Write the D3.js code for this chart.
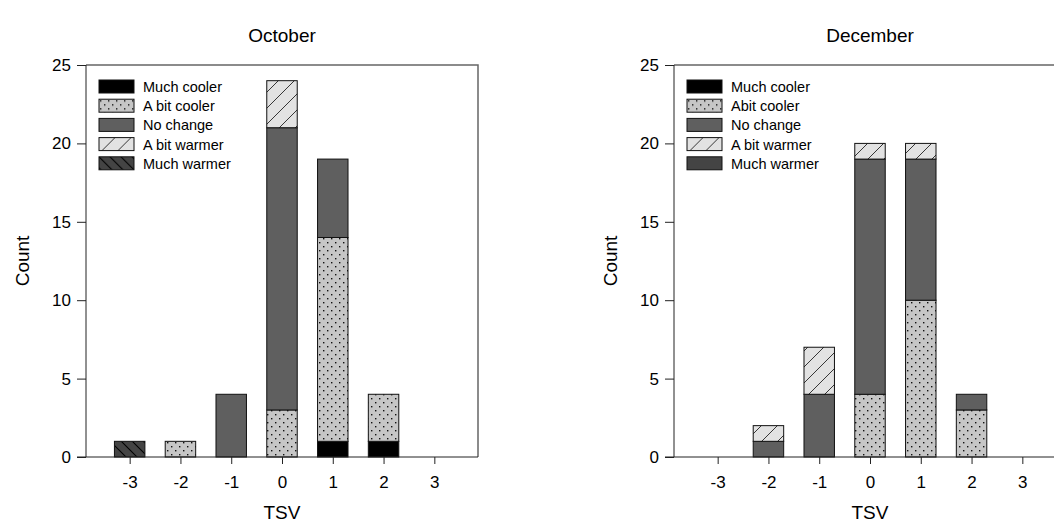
<!DOCTYPE html>
<html>
<head>
<meta charset="utf-8">
<script src="https://cdn.jsdelivr.net/npm/d3@7"></script>
<style>
  body { margin: 0; background: #fff; }
  text { font-family: Arial, "Liberation Sans", sans-serif; fill: #000; }
</style>
</head>
<body>
<svg id="chart" width="1054" height="531"></svg>
<script>
// categories on the x axis (TSV votes)
const tsv = [-3, -2, -1, 0, 1, 2, 3];
const yTicks = [0, 5, 10, 15, 20, 25];

// October counts per TSV, by preference
const octMuchCooler = [0, 0, 0, 0, 1, 1, 0];
const octBitCooler  = [0, 1, 0, 3, 13, 3, 0];
const octNoChange   = [0, 0, 4, 18, 5, 0, 0];
const octBitWarmer  = [0, 0, 0, 3, 0, 0, 0];
const octMuchWarmer = [1, 0, 0, 0, 0, 0, 0];

// December counts per TSV, by preference
const decMuchCooler = [0, 0, 0, 0, 0, 0, 0];
const decBitCooler  = [0, 0, 0, 4, 10, 3, 0];
const decNoChange   = [0, 1, 4, 15, 9, 1, 0];
const decBitWarmer  = [0, 1, 3, 1, 1, 0, 0];
const decMuchWarmer = [0, 0, 0, 0, 0, 0, 0];

const keys = ["muchCooler", "bitCooler", "noChange", "bitWarmer", "muchWarmer"];
const octLabels = ["Much cooler", "A bit cooler", "No change", "A bit warmer", "Much warmer"];
const decLabels = ["Much cooler", "Abit cooler", "No change", "A bit warmer", "Much warmer"];

function rows(a, b, c, d, e) {
  return tsv.map((t, i) => ({ tsv: t, muchCooler: a[i], bitCooler: b[i], noChange: c[i], bitWarmer: d[i], muchWarmer: e[i] }));
}

const svg = d3.select("#chart");
const defs = svg.append("defs");

// dotted fill
const dots = defs.append("pattern").attr("id", "dots").attr("patternUnits", "userSpaceOnUse")
  .attr("width", 8).attr("height", 8);
dots.append("rect").attr("width", 8).attr("height", 8).attr("fill", "#c6c6c6");
dots.append("rect").attr("x", 1).attr("y", 1).attr("width", 1.4).attr("height", 1.4).attr("fill", "#111");
dots.append("rect").attr("x", 5).attr("y", 5).attr("width", 1.4).attr("height", 1.4).attr("fill", "#111");

// forward hatch
const fwd = defs.append("pattern").attr("id", "fwd").attr("patternUnits", "userSpaceOnUse")
  .attr("width", 16).attr("height", 16);
fwd.append("rect").attr("width", 16).attr("height", 16).attr("fill", "#e2e2e2");
fwd.append("path").attr("d", "M0,16 L16,0 M-4,4 L4,-4 M12,20 L20,12").attr("stroke", "#222").attr("stroke-width", 0.9);

// back hatch
const back = defs.append("pattern").attr("id", "back").attr("patternUnits", "userSpaceOnUse")
  .attr("width", 11).attr("height", 11);
back.append("rect").attr("width", 11).attr("height", 11).attr("fill", "#444");
back.append("path").attr("d", "M0,0 L11,11 M-3,8 L3,14 M8,-3 L14,3").attr("stroke", "#000").attr("stroke-width", 1.1);

const fills = {
  muchCooler: "#000",
  bitCooler: "url(#dots)",
  noChange: "#5f5f5f",
  bitWarmer: "url(#fwd)"
};

const size = 392;
const plotTop = 65;

function panel(x0, title, data, labels, warmFill, legendX) {
  const g = svg.append("g").attr("transform", `translate(${x0},${plotTop})`);
  const x = d3.scaleLinear().domain([-3.86, 3.86]).range([0, size]);
  const y = d3.scaleLinear().domain([0, 25]).range([size, 0]);
  const color = Object.assign({}, fills, { muchWarmer: warmFill });

  const stacked = d3.stack().keys(keys)(data);
  const bw = x(0.3) - x(-0.3);

  g.append("g").selectAll("g").data(stacked).join("g")
    .attr("fill", d => color[d.key])
    .selectAll("rect").data(d => d.filter(p => p[1] > p[0])).join("rect")
    .attr("x", d => x(d.data.tsv) - bw / 2)
    .attr("y", d => y(d[1]))
    .attr("width", bw)
    .attr("height", d => y(d[0]) - y(d[1]))
    .attr("stroke", "#111").attr("stroke-width", 1);

  // frame top/right
  g.append("path").attr("d", `M0,0 H${size} V${size}`).attr("fill", "none")
    .attr("stroke", "#666").attr("stroke-width", 1.5);

  const ya = g.append("g").call(d3.axisLeft(y).tickValues(yTicks).tickSize(9).tickPadding(6).tickFormat(d => String(d)));
  const xa = g.append("g").attr("transform", `translate(0,${size})`)
    .call(d3.axisBottom(x).tickValues(tsv).tickSize(7).tickPadding(12).tickFormat(d => String(d)));
  [ya, xa].forEach(a => {
    a.select(".domain").remove();
    a.selectAll("line").attr("stroke", "#222");
    a.selectAll("text").attr("font-size", 17).attr("font-family", "Arial, 'Liberation Sans', sans-serif");
  });
  g.append("line").attr("x1", 0).attr("x2", 0).attr("y1", 0).attr("y2", size).attr("stroke", "#222");
  g.append("line").attr("x1", -9).attr("x2", size).attr("y1", size).attr("y2", size).attr("stroke", "#222");

  g.append("text").attr("x", size / 2).attr("y", -23).attr("text-anchor", "middle")
    .attr("font-size", 19).text(title);
  g.append("text").attr("x", size / 2).attr("y", size + 62).attr("text-anchor", "middle")
    .attr("font-size", 19).text("TSV");
  g.append("text").attr("transform", `translate(-57,${size / 2}) rotate(-90)`)
    .attr("text-anchor", "middle").attr("font-size", 19).text("Count");

  // legend
  const lg = g.append("g").attr("transform", `translate(${legendX},15)`);
  const item = lg.selectAll("g").data(keys).join("g")
    .attr("transform", (d, i) => `translate(0,${i * 19.2})`);
  item.append("rect").attr("width", 35).attr("height", 13)
    .attr("fill", d => color[d]).attr("stroke", "#111");
  item.append("text").attr("x", 44).attr("y", 12).attr("font-size", 14.5)
    .text((d, i) => labels[i]);
}

panel(86, "October",
  rows(octMuchCooler, octBitCooler, octNoChange, octBitWarmer, octMuchWarmer),
  octLabels, "url(#back)", 13);
panel(674, "December",
  rows(decMuchCooler, decBitCooler, decNoChange, decBitWarmer, decMuchWarmer),
  decLabels, "#444", 13);
</script>
</body>
</html>
